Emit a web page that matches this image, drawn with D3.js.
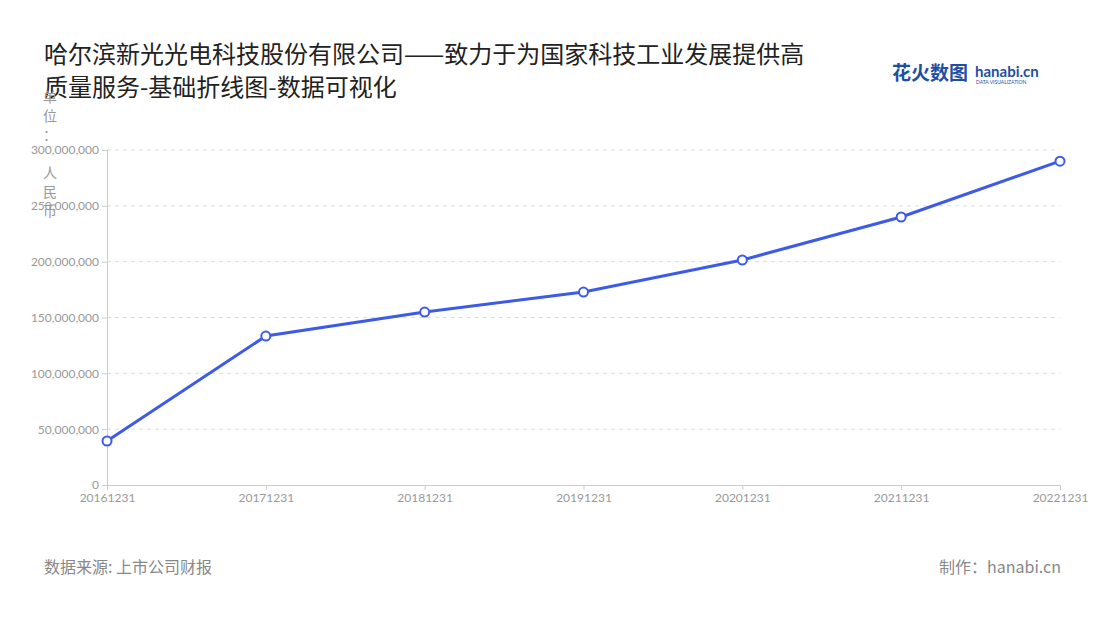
<!DOCTYPE html>
<html><head><meta charset="utf-8">
<script src="https://cdn.jsdelivr.net/npm/d3@7"></script>
<style>body{margin:0;background:#fff;font-family:"Noto Sans CJK SC","Noto Sans",sans-serif}</style>
</head><body>
<svg id="c" width="1100" height="620"></svg>
<script>
const years = ["20161231","20171231","20181231","20191231","20201231","20211231","20221231"];
const revenue = [39400000,133400000,154900000,172800000,201500000,240000000,290000000];
const yTicks = [0,50000000,100000000,150000000,200000000,250000000,300000000];

const svg = d3.select("#c");
const margin = {left:107, right:40, top:150, bottom:135};
const W = 1100, H = 620;

svg.append("text").attr("x",44).attr("y",63).attr("font-size",24).attr("fill","#222")
  .text("哈尔滨新光光电科技股份有限公司——致力于为国家科技工业发展提供高");
svg.append("text").attr("x",44).attr("y",96).attr("font-size",24).attr("fill","#222")
  .text("质量服务-基础折线图-数据可视化");

// logo
svg.append("text").attr("x",892).attr("y",80).attr("font-size",19).attr("font-weight",700)
  .attr("fill","#1f4fa3").text("花火数图");
svg.append("text").attr("x",975).attr("y",77).attr("font-size",15).attr("font-weight",700)
  .attr("fill","#1f4fa3").attr("font-family","Lato").text("hanabi.cn");
svg.append("text").attr("x",976).attr("y",84).attr("font-size",5).attr("fill","#1f4fa3")
  .attr("font-family","Lato").text("DATA VISUALIZATION");

const x = d3.scalePoint().domain(years).range([margin.left, W - margin.right]);
const y = d3.scaleLinear().domain([0,300000000]).range([H - margin.bottom, margin.top]);

// grid
svg.append("g").selectAll("line").data(yTicks.slice(1)).enter().append("line")
  .attr("x1",margin.left).attr("x2",W-margin.right)
  .attr("y1",d=>y(d)).attr("y2",d=>y(d))
  .attr("stroke","#ddd").attr("stroke-dasharray","4,4");

const yAxis = svg.append("g").attr("transform",`translate(${margin.left},0)`)
  .call(d3.axisLeft(y).tickValues(yTicks).tickFormat(d3.format(",")).tickSize(5));
yAxis.select(".domain").attr("stroke","#ccc");
yAxis.selectAll(".tick line").attr("stroke","#ccc");
yAxis.selectAll("text").attr("fill","#999").attr("font-size",12).attr("font-family","Lato");

const xAxis = svg.append("g").attr("transform",`translate(0,${H-margin.bottom})`)
  .call(d3.axisBottom(x).tickSize(5));
xAxis.select(".domain").attr("stroke","#ccc");
xAxis.selectAll(".tick line").attr("stroke","#ccc");
xAxis.selectAll("text").attr("fill","#999").attr("font-size",12).attr("font-family","Lato");

// vertical unit label
const unit = "单位：人民币".split("");
svg.append("g").selectAll("text").data(unit).enter().append("text")
  .attr("x",50).attr("y",(d,i)=>102+i*19+(i>2?19:0)).attr("text-anchor","middle")
  .attr("font-size",14).attr("fill","#999").text(d=>d);

const data = years.map((d,i)=>({k:d,v:revenue[i]}));
svg.append("path").datum(data)
  .attr("fill","none").attr("stroke","#3d5be8").attr("stroke-width",3)
  .attr("d", d3.line().x(d=>x(d.k)).y(d=>y(d.v)));
svg.append("g").selectAll("circle").data(data).enter().append("circle")
  .attr("cx",d=>x(d.k)).attr("cy",d=>y(d.v)).attr("r",4.5)
  .attr("fill","#fff").attr("stroke","#3d5be8").attr("stroke-width",2);

svg.append("text").attr("x",44).attr("y",573).attr("font-size",16).attr("fill","#888")
  .text("数据来源: 上市公司财报");
svg.append("text").attr("x",1061).attr("y",573).attr("font-size",16).attr("fill","#888")
  .attr("text-anchor","end").text("制作：hanabi.cn");
</script>
</body></html>
